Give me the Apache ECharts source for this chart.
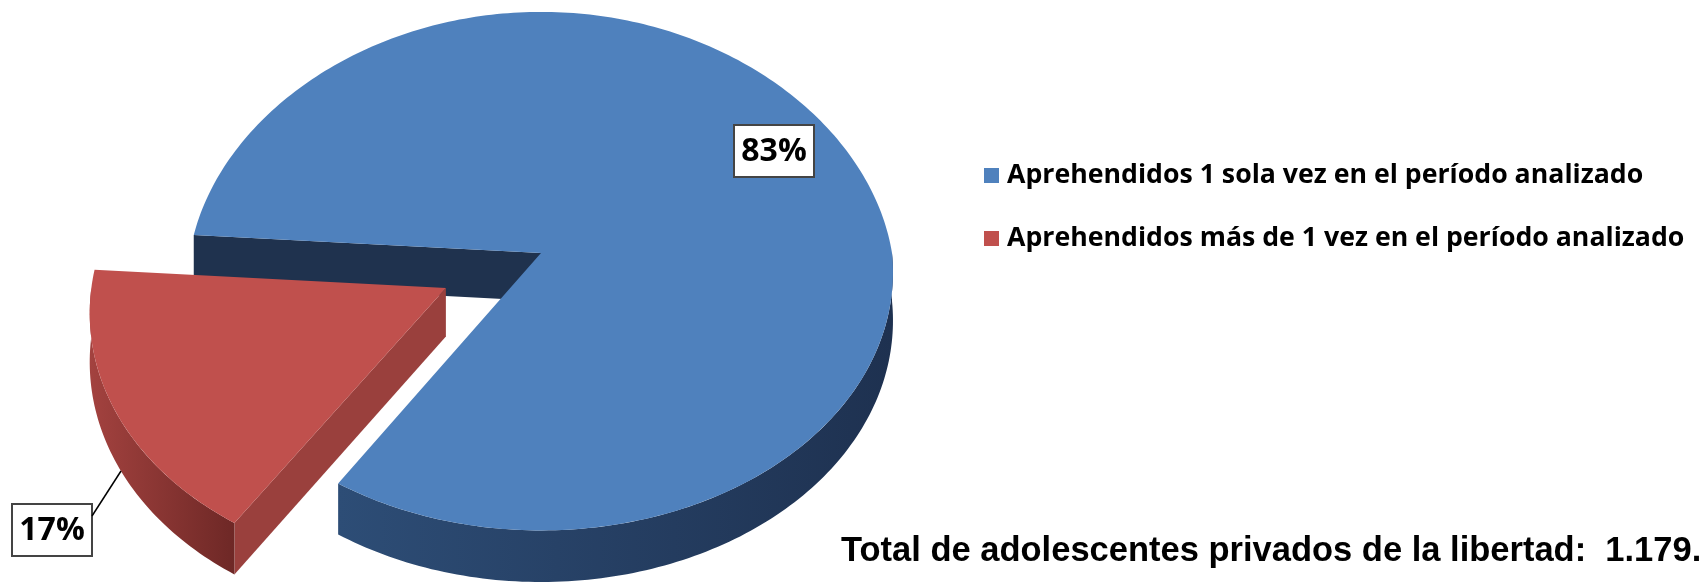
<!DOCTYPE html>
<html>
<head>
<meta charset="utf-8">
<title>Adolescentes privados de la libertad</title>
<script src="https://cdn.jsdelivr.net/npm/echarts@6/dist/echarts.min.js"></script>
<style>
  html, body { margin: 0; padding: 0; background: #fff; }
  #main { width: 1708px; height: 584px; }
</style>
</head>
<body>
<div id="main"></div>
<script>
// datos
const categories = [
  "Aprehendidos 1 sola vez en el período analizado",
  "Aprehendidos más de 1 vez en el período analizado"
];
const values = [83, 17];
const totalText = "Total de adolescentes privados de la libertad:  1.179.";

// colores de cada porción: cara superior, pared radial, pared exterior (gradiente)
const topColors = ["#4F81BD", "#C0504D"];
const sideColors = ["#1F324E", "#9A403D"];
const wallColors = [["#2D4D76", "#1E3150"], ["#A3423F", "#6E2826"]];
const explode = [0, 0.3];   // separación de la porción, relativa al radio
const firstAngle = 274;     // grados, sentido horario desde las 12

// geometría del pastel 3D (perspectiva simple; el fondo se estrecha un poco más)
const cx = 541, cy = 253, Rx = 351, Ry = 258, perspY = 0.07, depth = 48;
const perspBack = 0.12, perspFront = 0.0746;

const total = values.reduce((a, b) => a + b, 0);
const slices = [];
let acc = firstAngle;
values.forEach((v, i) => {
  const span = v / total * 360;
  const mid = (acc + span / 2) * Math.PI / 180;
  slices.push({
    a0: acc,
    a1: acc + span,
    off: [explode[i] * Math.sin(mid), -explode[i] * Math.cos(mid)]
  });
  acc += span;
});

function proj(u, v, h) {
  const sx = 1 / (1 - (v < 0 ? perspBack : perspFront) * v);
  const sy = 1 / (1 - perspY * v);
  return [cx + Rx * u * sx, cy + Ry * v * sy + depth * h * sy];
}
function rim(deg, off, h) {
  const t = deg * Math.PI / 180;
  return proj(Math.sin(t) + off[0], -Math.cos(t) + off[1], h);
}
function arc(a0, a1, off, h) {
  const pts = [];
  const n = Math.max(2, Math.ceil(Math.abs(a1 - a0)));
  for (let k = 0; k <= n; k++) pts.push(rim(a0 + (a1 - a0) * k / n, off, h));
  return pts;
}
// la pared exterior solo se ve en la mitad delantera (90°..270°)
function visibleRanges(a0, a1) {
  const out = [];
  for (let k = -1; k <= 2; k++) {
    const lo = Math.max(a0, 90 + 360 * k), hi = Math.min(a1, 270 + 360 * k);
    if (hi > lo) out.push([lo, hi]);
  }
  return out;
}
function facesViewer(normalDeg) {
  return -Math.cos(normalDeg * Math.PI / 180) > 0.02;
}

function renderSlice(params) {
  const i = params.dataIndex;
  const sl = slices[i];
  const off = sl.off;
  const children = [];
  // paredes radiales
  [[sl.a0, sl.a0 - 90], [sl.a1, sl.a1 + 90]].forEach(function (e) {
    if (!facesViewer(e[1])) return;
    children.push({
      type: "polygon",
      shape: { points: [proj(off[0], off[1], 0), rim(e[0], off, 0), rim(e[0], off, 1), proj(off[0], off[1], 1)] },
      style: { fill: sideColors[i] }
    });
  });
  // pared exterior
  visibleRanges(sl.a0, sl.a1).forEach(function (r) {
    const pts = arc(r[0], r[1], off, 0).concat(arc(r[1], r[0], off, 1));
    children.push({
      type: "polygon",
      shape: { points: pts },
      style: {
        fill: new echarts.graphic.LinearGradient(0, 0, 1, 0, [
          { offset: 0, color: wallColors[i][0] },
          { offset: 1, color: wallColors[i][1] }
        ])
      }
    });
  });
  // cara superior
  children.push({
    type: "polygon",
    shape: { points: [proj(off[0], off[1], 0)].concat(arc(sl.a0, sl.a1, off, 0)) },
    style: { fill: topColors[i] }
  });
  return { type: "group", children: children };
}

const pct = values.map(v => Math.round(v / total * 100) + "%");

function labelBox(text, x, y) {
  return {
    type: "group",
    left: x, top: y, z: 10,
    children: [
      { type: "rect", z: 10, shape: { x: 0, y: 0, width: 80, height: 52 },
        style: { fill: "#fff", stroke: "#444", lineWidth: 2 } },
      { type: "text", z: 11, x: 40, y: 27,
        style: { text: text, fill: "#000", font: "bold 32px 'Open Sans'", align: "center", verticalAlign: "middle" } }
    ]
  };
}

const chart = echarts.init(document.getElementById("main"));
chart.setOption({
  backgroundColor: "#fff",
  animation: false,
  legend: {
    orient: "vertical",
    left: 984,
    top: 162,
    padding: 0,
    itemWidth: 15,
    itemHeight: 15,
    itemGap: 36,
    icon: "rect",
    selectedMode: false,
    data: categories,
    textStyle: { fontFamily: "Open Sans", fontWeight: "bold", fontSize: 26.7, color: "#000", padding: [0, 0, 0, 3] }
  },
  series: [
    {
      type: "custom",
      coordinateSystem: "none",
      silent: true,
      renderItem: renderSlice,
      data: values.map((v, i) => ({ value: v, name: categories[i] }))
    },
    {
      // solo para la leyenda
      type: "pie",
      radius: [0, 0],
      silent: true,
      label: { show: false },
      labelLine: { show: false },
      data: values.map((v, i) => ({ value: v, name: categories[i], itemStyle: { color: topColors[i] } }))
    }
  ],
  graphic: [
    labelBox(pct[0], 733, 124),
    labelBox(pct[1], 11, 503),
    { type: "line", z: 10, shape: { x1: 92, y1: 516, x2: 121, y2: 471 }, style: { stroke: "#000", lineWidth: 1.5 } },
    { type: "text", z: 10, x: 841, y: 551,
      style: { text: totalText, fill: "#000", font: "bold 34.5px 'Liberation Sans', Arial", verticalAlign: "middle" } }
  ]
});
</script>
</body>
</html>
